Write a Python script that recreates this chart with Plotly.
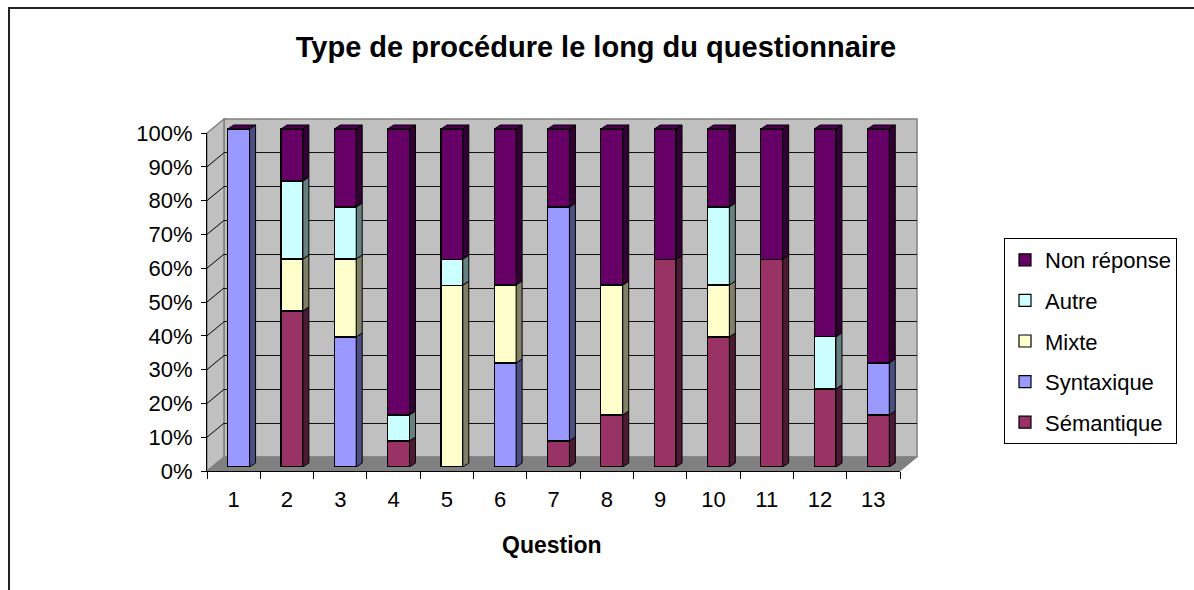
import plotly.graph_objects as go

# ---- data: share of answers by procedure type, per question (%) ----
questions = [str(i) for i in range(1, 14)]
series_names = ["Sémantique", "Syntaxique", "Mixte", "Autre", "Non réponse"]
semantique = [0, 46.2, 0, 7.7, 0, 0, 7.7, 15.4, 61.5, 38.5, 61.5, 23.1, 15.4]
syntaxique = [100, 0, 38.5, 0, 0, 30.8, 69.2, 0, 0, 0, 0, 0, 15.4]
mixte = [0, 15.4, 23.1, 0, 53.8, 23.1, 0, 38.5, 0, 15.4, 0, 0, 0]
autre = [0, 23.1, 15.4, 7.7, 7.7, 0, 0, 0, 0, 23.1, 0, 15.4, 0]
non_reponse = [0, 15.4, 23.1, 84.6, 38.5, 46.2, 23.1, 46.2, 38.5, 23.1, 38.5, 61.5, 69.2]
series_values = [semantique, syntaxique, mixte, autre, non_reponse]
y_tick_values = list(range(0, 101, 10))
y_tick_labels = [f"{v}%" for v in y_tick_values]

# ---- styling ----
face_colors = ["#993366", "#9999FF", "#FFFFCC", "#CCFFFF", "#660066"]
side_colors = ["#4D1A33", "#4D4D80", "#808066", "#668080", "#330033"]
top_color = "#4D004D"
FONT = "Liberation Sans, Arial, sans-serif"

W, H = 1194, 590


def fx(x):
    return x / W


def fy(y):
    return 1 - y / H


# pixel geometry of the pseudo-3D box
FRONT_L, FRONT_R, FRONT_B, FRONT_T = 207, 900, 471, 133
DEPTH_X, DEPTH_Y = 17, 14          # back wall offset
BAR_SHIFT_X, BAR_SHIFT_Y = 5, 4    # bar front plane offset
BAR_DX, BAR_DY = 6, 4              # bar depth
BAR_WIDTH = 0.41

n = len(questions)
xs = list(range(1, n + 1))
cat_px = (FRONT_R - FRONT_L) / n
pct_px = (FRONT_B - FRONT_T) / 100

# bar subplot ranges (slightly padded so side/top faces fit)
bar_x_range = [0.5, n + 0.7]
bar_y_range = [0, 103]
bar_left = FRONT_L + BAR_SHIFT_X
bar_right = bar_left + (bar_x_range[1] - bar_x_range[0]) * cat_px
bar_bottom = FRONT_B - BAR_SHIFT_Y
bar_top = bar_bottom - bar_y_range[1] * pct_px
ddx = BAR_DX / cat_px
ddy = BAR_DY / pct_px

# normalised cumulative stacks
totals = [sum(s[i] for s in series_values) for i in range(n)]
norm = [[s[i] * 100 / totals[i] for i in range(n)] for s in series_values]

fig = go.Figure()

# back wall subplot (grid only)
fig.add_trace(go.Scatter(x=[1], y=[0], mode="markers", marker=dict(opacity=0),
                         showlegend=False, hoverinfo="skip", xaxis="x", yaxis="y"))

# stacked bars; legend lists the top series first
for k, (name, vals, col) in enumerate(zip(series_names, series_values, face_colors)):
    fig.add_trace(go.Bar(
        x=xs, y=vals, name=name, width=BAR_WIDTH,
        marker=dict(color=col, line=dict(color="black", width=1.2)),
        xaxis="x2", yaxis="y2", legendgroup=name,
        legendrank=len(series_names) - k, hoverinfo="skip",
    ))

# side faces of every stacked segment
cum = [0.0] * n
for k, (name, col) in enumerate(zip(series_names, side_colors)):
    px_, py_ = [], []
    for i in range(n):
        v = norm[k][i]
        y0, y1 = cum[i], cum[i] + v
        cum[i] = y1
        if v <= 0:
            continue
        xr = xs[i] + BAR_WIDTH / 2
        px_ += [xr, xr + ddx, xr + ddx, xr, xr, None]
        py_ += [y0, y0 + ddy, y1 + ddy, y1, y0, None]
    fig.add_trace(go.Scatter(
        x=px_, y=py_, mode="lines", fill="toself", fillcolor=col,
        line=dict(color="black", width=1), showlegend=False,
        hoverinfo="skip", xaxis="x2", yaxis="y2",
    ))

# top faces
tx, ty = [], []
for i in range(n):
    xl, xr = xs[i] - BAR_WIDTH / 2, xs[i] + BAR_WIDTH / 2
    tx += [xl, xr, xr + ddx, xl + ddx, xl, None]
    ty += [100, 100, 100 + ddy, 100 + ddy, 100, None]
fig.add_trace(go.Scatter(
    x=tx, y=ty, mode="lines", fill="toself", fillcolor=top_color,
    line=dict(color="black", width=1), showlegend=False,
    hoverinfo="skip", xaxis="x2", yaxis="y2",
))

# front axes (labels)
fig.add_trace(go.Scatter(x=[1], y=[0], mode="markers", marker=dict(opacity=0),
                         showlegend=False, hoverinfo="skip", xaxis="x3", yaxis="y3"))

# ---- decorations of the 3D box ----
wall_l, wall_r = FRONT_L + DEPTH_X, FRONT_R + DEPTH_X
wall_b, wall_t = FRONT_B - DEPTH_Y, FRONT_T - DEPTH_Y


def path(points, close=True):
    s = "M " + " L ".join(f"{fx(x):.5f},{fy(y):.5f}" for x, y in points)
    return s + (" Z" if close else "")


shapes = [
    dict(type="rect", xref="paper", yref="paper", layer="below",
         x0=fx(wall_l), x1=fx(wall_r), y0=fy(wall_b), y1=fy(wall_t),
         fillcolor="#C0C0C0", line=dict(color="#808080", width=1.5)),
    dict(type="path", xref="paper", yref="paper", layer="below",
         path=path([(FRONT_L, FRONT_B), (wall_l, wall_b), (wall_l, wall_t), (FRONT_L, FRONT_T)]),
         fillcolor="#C0C0C0", line=dict(color="#808080", width=1.5)),
    dict(type="path", xref="paper", yref="paper", layer="below",
         path=path([(FRONT_L, FRONT_B), (FRONT_R, FRONT_B), (wall_r, wall_b), (wall_l, wall_b)]),
         fillcolor="#808080", line=dict(color="#808080", width=1)),
]
for v in y_tick_values[1:-1]:
    yf = FRONT_B - v * pct_px
    yb = wall_b - v * pct_px
    shapes.append(dict(type="line", xref="paper", yref="paper", layer="below",
                       x0=fx(FRONT_L), y0=fy(yf), x1=fx(wall_l), y1=fy(yb),
                       line=dict(color="black", width=1)))
# chart frame
shapes.append(dict(type="path", xref="paper", yref="paper",
                   path=path([(9, 590), (9, 8), (1194, 8)], close=False),
                   line=dict(color="#222222", width=2)))

fig.update_layout(
    width=W, height=H,
    margin=dict(l=0, r=0, t=0, b=0, pad=0, autoexpand=False),
    paper_bgcolor="white", plot_bgcolor="rgba(0,0,0,0)",
    barmode="stack", barnorm="percent",
    font=dict(family=FONT, size=22, color="black"),
    title=dict(text="<b>Type de procédure le long du questionnaire</b>",
               x=fx(596), xanchor="center", y=fy(47), yanchor="middle",
               font=dict(family=FONT, size=29, color="black")),
    shapes=shapes,
    showlegend=True,
    legend=dict(x=fx(1004), y=fy(238), xanchor="left", yanchor="top",
                bordercolor="black", borderwidth=1, bgcolor="white",
                traceorder="grouped", tracegroupgap=9,
                font=dict(family=FONT, size=22, color="black")),
    annotations=[dict(text="<b>Question</b>", xref="paper", yref="paper",
                      x=fx(552), y=fy(545), xanchor="center", yanchor="middle",
                      showarrow=False, font=dict(family=FONT, size=23, color="black"))],
    # back wall
    xaxis=dict(domain=[fx(wall_l), fx(wall_r)], range=[0.5, n + 0.5], anchor="y",
               showgrid=False, zeroline=False, showticklabels=False, ticks="", showline=False),
    yaxis=dict(domain=[fy(wall_b), fy(wall_t)], range=[0, 100], anchor="x",
               tickmode="array", tickvals=y_tick_values[1:-1], showgrid=True,
               gridcolor="#111111", gridwidth=1, zeroline=False,
               showticklabels=False, ticks="", showline=False),
    # bars
    xaxis2=dict(domain=[fx(bar_left), fx(bar_right)], range=bar_x_range, anchor="y2",
                visible=False),
    yaxis2=dict(domain=[fy(bar_bottom), fy(bar_top)], range=bar_y_range, anchor="x2",
                visible=False),
    # front axes with labels
    xaxis3=dict(domain=[fx(FRONT_L), fx(FRONT_R)], range=[0.5, n + 0.5], anchor="y3",
                tickmode="array", tickvals=xs, ticktext=questions,
                ticks="outside", ticklen=7, tickcolor="rgba(0,0,0,0)",
                ticklabelstandoff=2,
                minor=dict(tickmode="array", tickvals=[i + 0.5 for i in range(n + 1)],
                           ticks="outside", ticklen=7, tickcolor="black", showgrid=False),
                showline=True, linecolor="black", linewidth=1,
                showgrid=False, zeroline=False),
    yaxis3=dict(domain=[fy(FRONT_B), fy(FRONT_T)], range=[0, 100], anchor="x3",
                tickmode="array", tickvals=y_tick_values, ticktext=y_tick_labels,
                ticks="outside", ticklen=5, tickcolor="black", ticklabelstandoff=4,
                showline=True, linecolor="black", linewidth=1,
                showgrid=False, zeroline=False),
)

fig.write_html("out.html")
